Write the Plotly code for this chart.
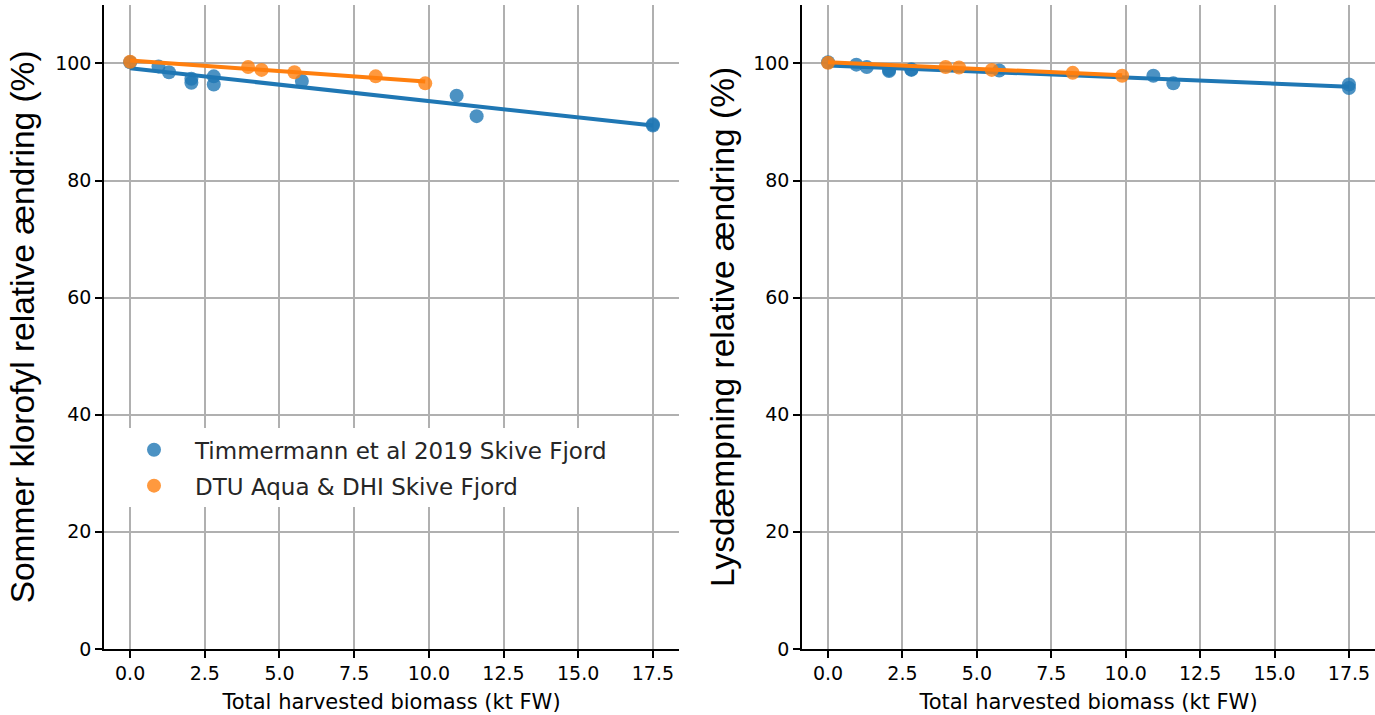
import numpy as np
import plotly.graph_objects as go

# ---- data ----
timmermann_x = [0.0, 0.95, 1.3, 2.05, 2.05, 2.8, 2.8, 5.75, 10.93, 11.6, 17.5, 17.5]
timmermann_klorofyl = [100.2, 99.5, 98.5, 97.4, 96.7, 97.8, 96.4, 97.0, 94.5, 91.0, 89.6, 89.4]
timmermann_lys = [100.2, 99.8, 99.4, 98.9, 98.7, 98.9, 99.0, 98.8, 97.9, 96.6, 96.4, 95.8]

dtu_x = [0.0, 3.95, 4.4, 5.5, 8.22, 9.88]
dtu_klorofyl = [100.3, 99.4, 98.9, 98.5, 97.8, 96.6]
dtu_lys = [100.1, 99.4, 99.3, 98.9, 98.4, 97.9]

series_names = ["Timmermann et al 2019 Skive Fjord", "DTU Aqua & DHI Skive Fjord"]
x_ticks = [0.0, 2.5, 5.0, 7.5, 10.0, 12.5, 15.0, 17.5]
x_tick_labels = ["0.0", "2.5", "5.0", "7.5", "10.0", "12.5", "15.0", "17.5"]
y_ticks = [0, 20, 40, 60, 80, 100]
x_title = "Total harvested biomass (kt FW)"
y_titles = ["Sommer klorofyl relative ændring (%)", "Lysdæmpning relative ændring (%)"]

BLUE = "#1f77b4"
ORANGE = "#ff7f0e"
BLUE_A = "rgba(31,119,180,0.8)"
ORANGE_A = "rgba(255,127,14,0.8)"


def fit_line(x, y):
    slope, intercept = np.polyfit(x, y, 1)
    xs = np.array([min(x), max(x)])
    return xs, intercept + slope * xs


fig = go.Figure()

panels = [
    ("x", "y", timmermann_klorofyl, dtu_klorofyl, True),
    ("x2", "y2", timmermann_lys, dtu_lys, False),
]
for xa, ya, t_vals, d_vals, show in panels:
    for gi, (xs, ys, col, col_a, name) in enumerate([
        (timmermann_x, t_vals, BLUE, BLUE_A, series_names[0]),
        (dtu_x, d_vals, ORANGE, ORANGE_A, series_names[1]),
    ]):
        fig.add_trace(go.Scatter(
            x=xs, y=ys, mode="markers", name=name, showlegend=show,
            legendgroup="g%d" % gi,
            marker=dict(size=14, color=col_a, line=dict(width=0)),
            xaxis=xa, yaxis=ya,
        ))
        lx, ly = fit_line(xs, ys)
        fig.add_trace(go.Scatter(
            x=lx, y=ly, mode="lines", showlegend=False,
            legendgroup="g%d" % gi,
            line=dict(color=col, width=4),
            xaxis=xa, yaxis=ya, hoverinfo="skip",
        ))

tick_font = dict(family="DejaVu Sans", size=19, color="black")
common_x = dict(
    range=[-0.875, 18.375], tickvals=x_ticks, ticktext=x_tick_labels,
    showgrid=True, gridcolor="#b0b0b0", gridwidth=1.5,
    showline=True, linecolor="black", linewidth=1.5, mirror=False,
    ticks="outside", ticklen=7, tickwidth=1.5, tickcolor="black",
    zeroline=False, tickfont=tick_font,
    title=dict(text=x_title, font=dict(family="DejaVu Sans", size=21, color="black"), standoff=11),
)
common_y = dict(
    range=[0, 110], tickvals=y_ticks,
    showgrid=True, gridcolor="#b0b0b0", gridwidth=1.5,
    showline=True, linecolor="black", linewidth=1.5, mirror=False,
    ticks="outside", ticklen=7, tickwidth=1.5, tickcolor="black",
    zeroline=False, tickfont=tick_font,
)

y_dom = [(715 - 659) / 715, (715 - 5) / 715]
ytitle_font = dict(family="Liberation Sans", size=33.5, color="black")

fig.update_layout(
    width=1375, height=715, autosize=False,
    margin=dict(l=0, r=0, t=0, b=0),
    paper_bgcolor="white", plot_bgcolor="white",
    xaxis=dict(common_x, domain=[104 / 1375, 679 / 1375], anchor="y"),
    yaxis=dict(common_y, domain=y_dom, anchor="x",
               title=dict(text=y_titles[0], font=ytitle_font, standoff=10)),
    xaxis2=dict(common_x, domain=[802 / 1375, 1.0], anchor="y2"),
    yaxis2=dict(common_y, domain=y_dom, anchor="x2",
                title=dict(text=y_titles[1], font=ytitle_font, standoff=8)),
    legend=dict(
        x=113 / 1375, y=(715 - 435) / 715, xanchor="left", yanchor="top",
        bgcolor="white", borderwidth=0,
        font=dict(family="DejaVu Sans", size=23, color="#262626"),
        itemwidth=72, traceorder="grouped", tracegroupgap=3,
    ),
    showlegend=True,
)

fig.write_html(
    "out.html",
    config={"responsive": False, "displayModeBar": False},
    post_script="document.body.style.margin='0';",
)
